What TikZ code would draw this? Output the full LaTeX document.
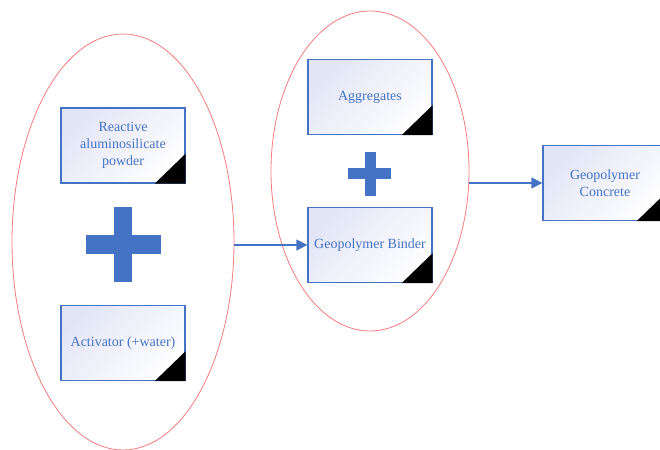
\documentclass[tikz,border=0pt]{standalone}
\usepackage{fontspec}
\setmainfont{Liberation Serif}
\usetikzlibrary{shapes.geometric, arrows.meta}
\definecolor{boxblue}{HTML}{4472C4}
\definecolor{ringred}{HTML}{F47C7C}
\definecolor{boxtint}{HTML}{E2E5F6}
\tikzset{
  stage/.style={draw=boxblue, line width=1.3pt, top color=boxtint, bottom color=white, shading angle=45,
    minimum width=124pt, minimum height=75pt, inner sep=0pt, align=center, text=boxblue,
    font=\fontsize{14}{17}\selectfont},
  ring/.style={draw=ringred, line width=0.8pt, ellipse, inner sep=0pt},
  flow/.style={draw=boxblue, line width=1.3pt, -{Triangle[length=11pt,width=11pt]}},
}

\begin{document}
\begin{tikzpicture}[x=1pt,y=-1pt]
\useasboundingbox (0,0) rectangle (660,449);
\node[ring, minimum width=222pt, minimum height=416pt] (leftring) at (123,242) {};
\node[ring, minimum width=198pt, minimum height=320pt] (midring) at (370,171) {};
\node[stage] (powder) at (123,145.5) {Reactive\\aluminosilicate\\powder};
\node[stage] (activator) at (123,343) {Activator (+water)};
\node[stage] (aggregates) at (370,97) {Aggregates};
\node[stage] (binder) at (370,245) {Geopolymer Binder};
\node[stage] (concrete) at (605,183) {Geopolymer\\Concrete};
\foreach \n in {powder,activator,aggregates,binder,concrete}
  \fill[black] (\n.south east) -- ++(-31,0) -- ++(31,-30) -- cycle;
\fill[boxblue] (86,235) rectangle (161,254);
\fill[boxblue] (114,207) rectangle (132,282);
\fill[boxblue] (348,168) rectangle (391,179);
\fill[boxblue] (365,152) rectangle (376,196);
\draw[flow] (leftring.east |- binder.west) -- (binder.west);
\draw[flow] (midring.east |- concrete.west) -- (concrete.west);
\end{tikzpicture}
\end{document}
